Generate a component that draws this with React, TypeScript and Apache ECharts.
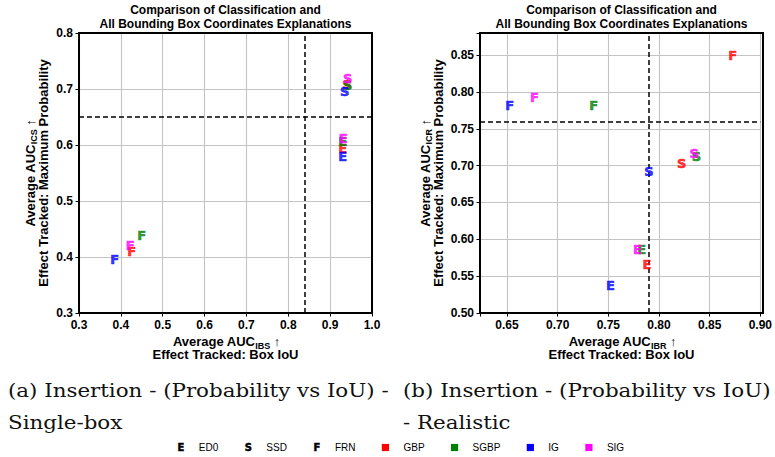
import React, { useEffect, useRef } from 'react';
import * as echarts from 'echarts';

// ---------- data ----------
const models = ['ED0', 'SSD', 'FRN'];
const modelMarkers = ['E', 'S', 'F'];
const methods = ['GBP', 'SGBP', 'IG', 'SIG'];
const methodColors = ['#ff0000', '#008000', '#0000ff', '#ff00ff'];

// (a) Single-box: [AUC_IBS, AUC_ICS] for ED0, SSD, FRN
const singleGBP = [[0.930, 0.594], [0.940, 0.708], [0.426, 0.409]];
const singleSGBP = [[0.930, 0.606], [0.942, 0.706], [0.450, 0.439]];
const singleIG = [[0.930, 0.580], [0.935, 0.695], [0.385, 0.396]];
const singleSIG = [[0.931, 0.611], [0.942, 0.719], [0.422, 0.421]];
const singleRefX = 0.845;
const singleRefY = 0.645;

// (b) Realistic: [AUC_IBR, AUC_ICR] for ED0, SSD, FRN
const realGBP = [[0.788, 0.566], [0.8225, 0.7025], [0.8728, 0.849]];
const realSGBP = [[0.783, 0.586], [0.837, 0.712], [0.7355, 0.782]];
const realIG = [[0.752, 0.538], [0.790, 0.6924], [0.6526, 0.782]];
const realSIG = [[0.7788, 0.586], [0.8347, 0.7165], [0.677, 0.792]];
const realRefX = 0.786;
const realRefY = 0.763;

// axis ranges
const singleXRange = [0.3, 1.0];
const singleYRange = [0.3, 0.8];
const realXRange = [0.6234, 0.9];
const realYRange = [0.5, 0.88];

const titleLines = ['Comparison of Classification and', 'All Bounding Box Coordinates Explanations'];
const captionA = ['(a) Insertion - (Probability vs IoU) -', 'Single-box'];
const captionB = ['(b) Insertion - (Probability vs IoU)', '- Realistic'];

// ---------- layout ----------
const SANS = '"Liberation Sans", Arial, Helvetica, sans-serif';
const MARK = '"DejaVu Sans", "Liberation Sans", sans-serif';
const SERIF = '"DejaVu Serif", "Liberation Serif", serif';
const GRIDS = [
  { left: 79, top: 33, width: 293, height: 280 },
  { left: 480, top: 33, width: 283, height: 280 },
];

const plotDefs = [
  {
    data: [singleGBP, singleSGBP, singleIG, singleSIG],
    xr: singleXRange, yr: singleYRange, step: 0.1, decimals: 1,
    xInterval: 0.1 as number | undefined, yInterval: 0.1,
    refX: singleRefX, refY: singleRefY, xSub: 'IBS', ySub: 'ICS',
  },
  {
    data: [realGBP, realSGBP, realIG, realSIG],
    xr: realXRange, yr: realYRange, step: 0.05, decimals: 2,
    xInterval: undefined as number | undefined, yInterval: 0.05,
    refX: realRefX, refY: realRefY, xSub: 'IBR', ySub: 'ICR',
  },
];

function fmt(step: number, decimals: number) {
  return (v: number) => {
    const r = v / step;
    if (Math.abs(r - Math.round(r)) > 1e-6) return '';
    return v.toFixed(decimals);
  };
}

const richName = {
  a: { fontSize: 13, fontWeight: 'bold', fontFamily: SANS, fill: '#000' },
  s: { fontSize: 9, fontWeight: 'bold', fontFamily: SANS, fill: '#000', padding: [8, 0, 0, 0] },
};

export default function App() {
  const ref = useRef<HTMLDivElement>(null);
  useEffect(() => {
    const el = ref.current!;
    const chart = echarts.init(el, null, { renderer: 'svg' });

    const canvas = document.createElement('canvas');
    const ctx = canvas.getContext('2d')!;

    const xAxes: any[] = [];
    const yAxes: any[] = [];
    const series: any[] = [];
    const graphics: any[] = [];

    plotDefs.forEach((p, pi) => {
      const g = GRIDS[pi];
      const axisCommon = {
        gridIndex: pi,
        axisLine: { show: true, lineStyle: { color: '#000', width: 2 } },
        axisTick: { show: true, length: 3.5, lineStyle: { color: '#000', width: 1 } },
        splitLine: { show: true, lineStyle: { color: '#c4c4c4', width: 1.1 } },
        axisLabel: {
          color: '#000', fontSize: 12, fontWeight: 'bold', fontFamily: SANS, margin: 6,
          formatter: fmt(p.step, p.decimals),
        },
      };
      xAxes.push({
        ...axisCommon, type: 'value', min: p.xr[0], max: p.xr[1],
        ...(p.xInterval ? { interval: p.xInterval } : { splitNumber: 5 }),
      });
      yAxes.push({
        ...axisCommon, type: 'value', min: p.yr[0], max: p.yr[1], interval: p.yInterval,
      });

      p.data.forEach((pts, mi) => {
        series.push({
          type: 'scatter',
          name: methods[mi],
          xAxisIndex: pi,
          yAxisIndex: pi,
          symbol: 'circle',
          symbolSize: 2,
          itemStyle: { color: 'transparent' },
          z: 5 + mi,
          label: {
            show: true, position: 'inside', color: methodColors[mi],
            fontSize: 13, fontWeight: 'bold', fontFamily: MARK,
            textBorderColor: methodColors[mi], textBorderWidth: 0.6,
            formatter: (prm: any) => modelMarkers[prm.dataIndex],
          },
          data: pts.map((d) => [d[0], d[1]]),
          ...(mi === 0
            ? {
                markLine: {
                  silent: true,
                  symbol: ['none', 'none'],
                  label: { show: false },
                  lineStyle: { color: '#000', width: 1.5, type: [5, 3] },
                  data: [{ xAxis: p.refX }, { yAxis: p.refY }],
                },
              }
            : {}),
        });
      });

      const cx = g.left + g.width / 2;
      const center = { align: 'center', verticalAlign: 'middle', textAlign: 'center', textVerticalAlign: 'middle' };
      graphics.push({
        type: 'text', x: cx, y: 10,
        style: { text: titleLines[0], fontSize: 12, fontWeight: 'bold', fontFamily: SANS, fill: '#000', ...center },
      });
      graphics.push({
        type: 'text', x: cx, y: 24,
        style: { text: titleLines[1], fontSize: 12, fontWeight: 'bold', fontFamily: SANS, fill: '#000', ...center },
      });
      graphics.push({
        type: 'text', x: cx + 1, y: 341.5,
        style: { text: `{a|Average AUC}{s|${p.xSub}}{a| \u2191}`, rich: richName, ...center },
      });
      graphics.push({
        type: 'text', x: cx, y: 354,
        style: { text: 'Effect Tracked: Box IoU', fontSize: 13, fontWeight: 'bold', fontFamily: SANS, fill: '#000', ...center },
      });
      const cy = g.top + g.height / 2;
      const yx = pi === 0 ? 30 : 425;
      graphics.push({
        type: 'text', x: yx, y: cy, rotation: Math.PI / 2,
        style: { text: `{a|Average AUC}{s|${p.ySub}}{a| \u2191}`, rich: richName, ...center },
      });
      graphics.push({
        type: 'text', x: yx + 13, y: cy, rotation: Math.PI / 2,
        style: { text: 'Effect Tracked: Maximum Probability', fontSize: 13, fontWeight: 'bold', fontFamily: SANS, fill: '#000', ...center },
      });
      graphics.push({
        type: 'rect', z: 100, silent: true,
        shape: { x: g.left, y: g.top, width: g.width, height: g.height },
        style: { fill: 'none', stroke: '#000', lineWidth: 2 },
      });
    });

    // captions (serif, stretched to the reference's text width)
    const capSize = 19;
    ctx.font = `${capSize}px ${SERIF}`;
    const capScale = 381 / ctx.measureText(captionA[0]).width;
    [captionA, captionB].forEach((cap, ci) => {
      const x = ci === 0 ? 8 : 403;
      cap.forEach((line, li) => {
        graphics.push({
          type: 'text', x, y: li === 0 ? 390 : 422, scaleX: capScale,
          style: { text: line, fontSize: capSize, fontFamily: SERIF, fill: '#111', align: 'left', verticalAlign: 'middle', textAlign: 'left', textVerticalAlign: 'middle' },
        });
      });
    });

    // legend
    ctx.font = `10px ${SANS}`;
    const items = [
      ...models.map((m, i) => ({ label: m, marker: modelMarkers[i], color: '' })),
      ...methods.map((m, i) => ({ label: m, marker: '', color: methodColors[i] })),
    ];
    const widths = items.map((it) => ctx.measureText(it.label).width);
    const labelOff = 18;
    const gap = 30;
    const total = widths.reduce((s, w) => s + w, 0) + items.length * labelOff + (items.length - 1) * gap + 4;
    let hx = 400.5 - total / 2 + 4;
    const ly = 447.5;
    items.forEach((it, i) => {
      if (it.marker) {
        graphics.push({
          type: 'text', x: hx, y: ly,
          style: { text: it.marker, fontSize: 10, fontWeight: 'bold', fontFamily: MARK, fill: '#000', stroke: '#000', lineWidth: 0.5, align: 'center', verticalAlign: 'middle', textAlign: 'center', textVerticalAlign: 'middle' },
        });
      } else {
        graphics.push({
          type: 'rect', shape: { x: hx - 3.6, y: ly - 3.6, width: 7.2, height: 7.2 },
          style: { fill: it.color },
        });
      }
      graphics.push({
        type: 'text', x: hx + labelOff, y: ly,
        style: { text: it.label, fontSize: 10, fontFamily: SANS, fill: '#000', align: 'left', verticalAlign: 'middle', textAlign: 'left', textVerticalAlign: 'middle' },
      });
      hx += labelOff + widths[i] + gap;
    });

    chart.setOption({
      animation: false,
      backgroundColor: '#fff',
      grid: GRIDS.map((g) => ({ ...g, containLabel: false })),
      xAxis: xAxes,
      yAxis: yAxes,
      series,
      graphic: { elements: graphics },
    });
    return () => chart.dispose();
  }, []);
  return <div ref={ref} style={{ position: 'fixed', left: 0, top: 0, width: 775, height: 457 }} />;
}
